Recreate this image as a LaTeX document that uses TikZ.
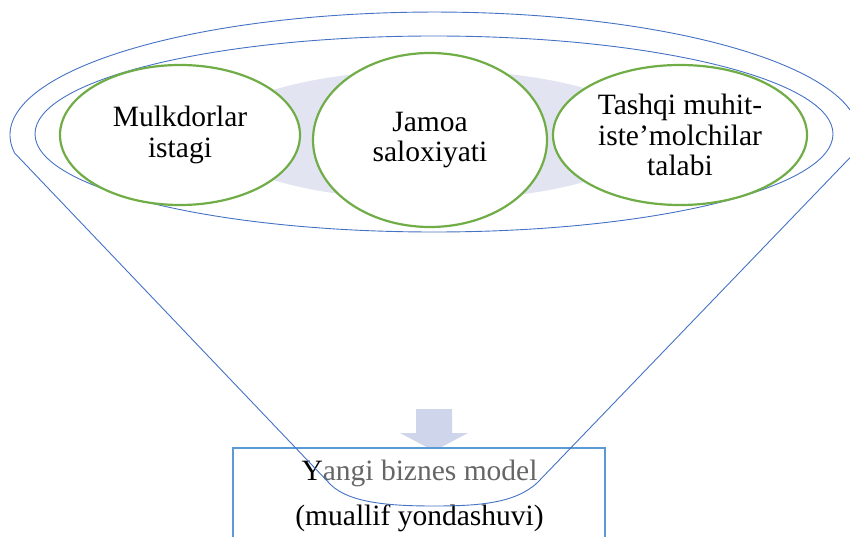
\documentclass[tikz,border=0pt]{standalone}
\usepackage{fontspec}
\setmainfont{Liberation Serif}
\usetikzlibrary{shapes.geometric}
\definecolor{funnelblue}{HTML}{4472C4}
\definecolor{boxblue}{HTML}{5B9BD5}
\definecolor{leafgreen}{HTML}{70AD47}
\definecolor{shadefill}{HTML}{E2E5F1}
\definecolor{arrowfill}{HTML}{CFD5EA}
\definecolor{txtgray}{HTML}{666666}
\tikzset{
  funnelline/.style={draw=funnelblue, line width=0.9pt},
  leaf/.style={ellipse, draw=leafgreen, line width=2.2pt, fill=white, inner sep=0pt,
    align=center, font=\fontsize{29.5}{30.5}\selectfont},
  modelbox/.style={draw=boxblue, line width=2pt, fill=white},
  boxtext/.style={font=\fontsize{29.5}{30}\selectfont, anchor=base, inner sep=0pt}
}
\begin{document}
\begin{tikzpicture}[x=1pt,y=1pt]
\useasboundingbox (0,0) rectangle (850,536);
% inner ellipse
\draw[funnelline] (434,402) ellipse [x radius=399pt, y radius=98pt];
% shaded background ellipse
\fill[shadefill] (432,401) ellipse [x radius=220pt, y radius=65pt];
% green ellipses
\node[leaf, minimum width=240pt, minimum height=140pt] (own) at (180,401) {Mulkdorlar\\istagi};
\node[leaf, minimum width=234pt, minimum height=174pt] (team) at (430,396) {Jamoa\\saloxiyati};
\node[leaf, minimum width=254pt, minimum height=140pt] (ext) at (680,401) {Tashqi muhit-\\iste’molchilar\\talabi};
% down arrow
\fill[arrowfill] (416,127) -- (452,127) -- (452,103) -- (468,103) -- (434,85) -- (400,103) -- (416,103) -- cycle;
% model box
\draw[modelbox] (233,88) rectangle (605,-12);
\node[boxtext] (m1) at (419.5,56) {Y\textcolor{txtgray}{angi biznes model}};
\node[boxtext] (m2) at (419.5,11) {(muallif yondashuvi)};
% funnel outline
\coordinate (ltip) at (14.6,383);
\draw[funnelline] (ltip) arc[start angle=188.4, end angle=-8.4, x radius=424.5pt, y radius=123pt]
  -- (537,53) .. controls (515,33) and (480,30) .. (434,30)
  .. controls (390,30) and (350,33) .. (331,51) -- (ltip);
\end{tikzpicture}
\end{document}
